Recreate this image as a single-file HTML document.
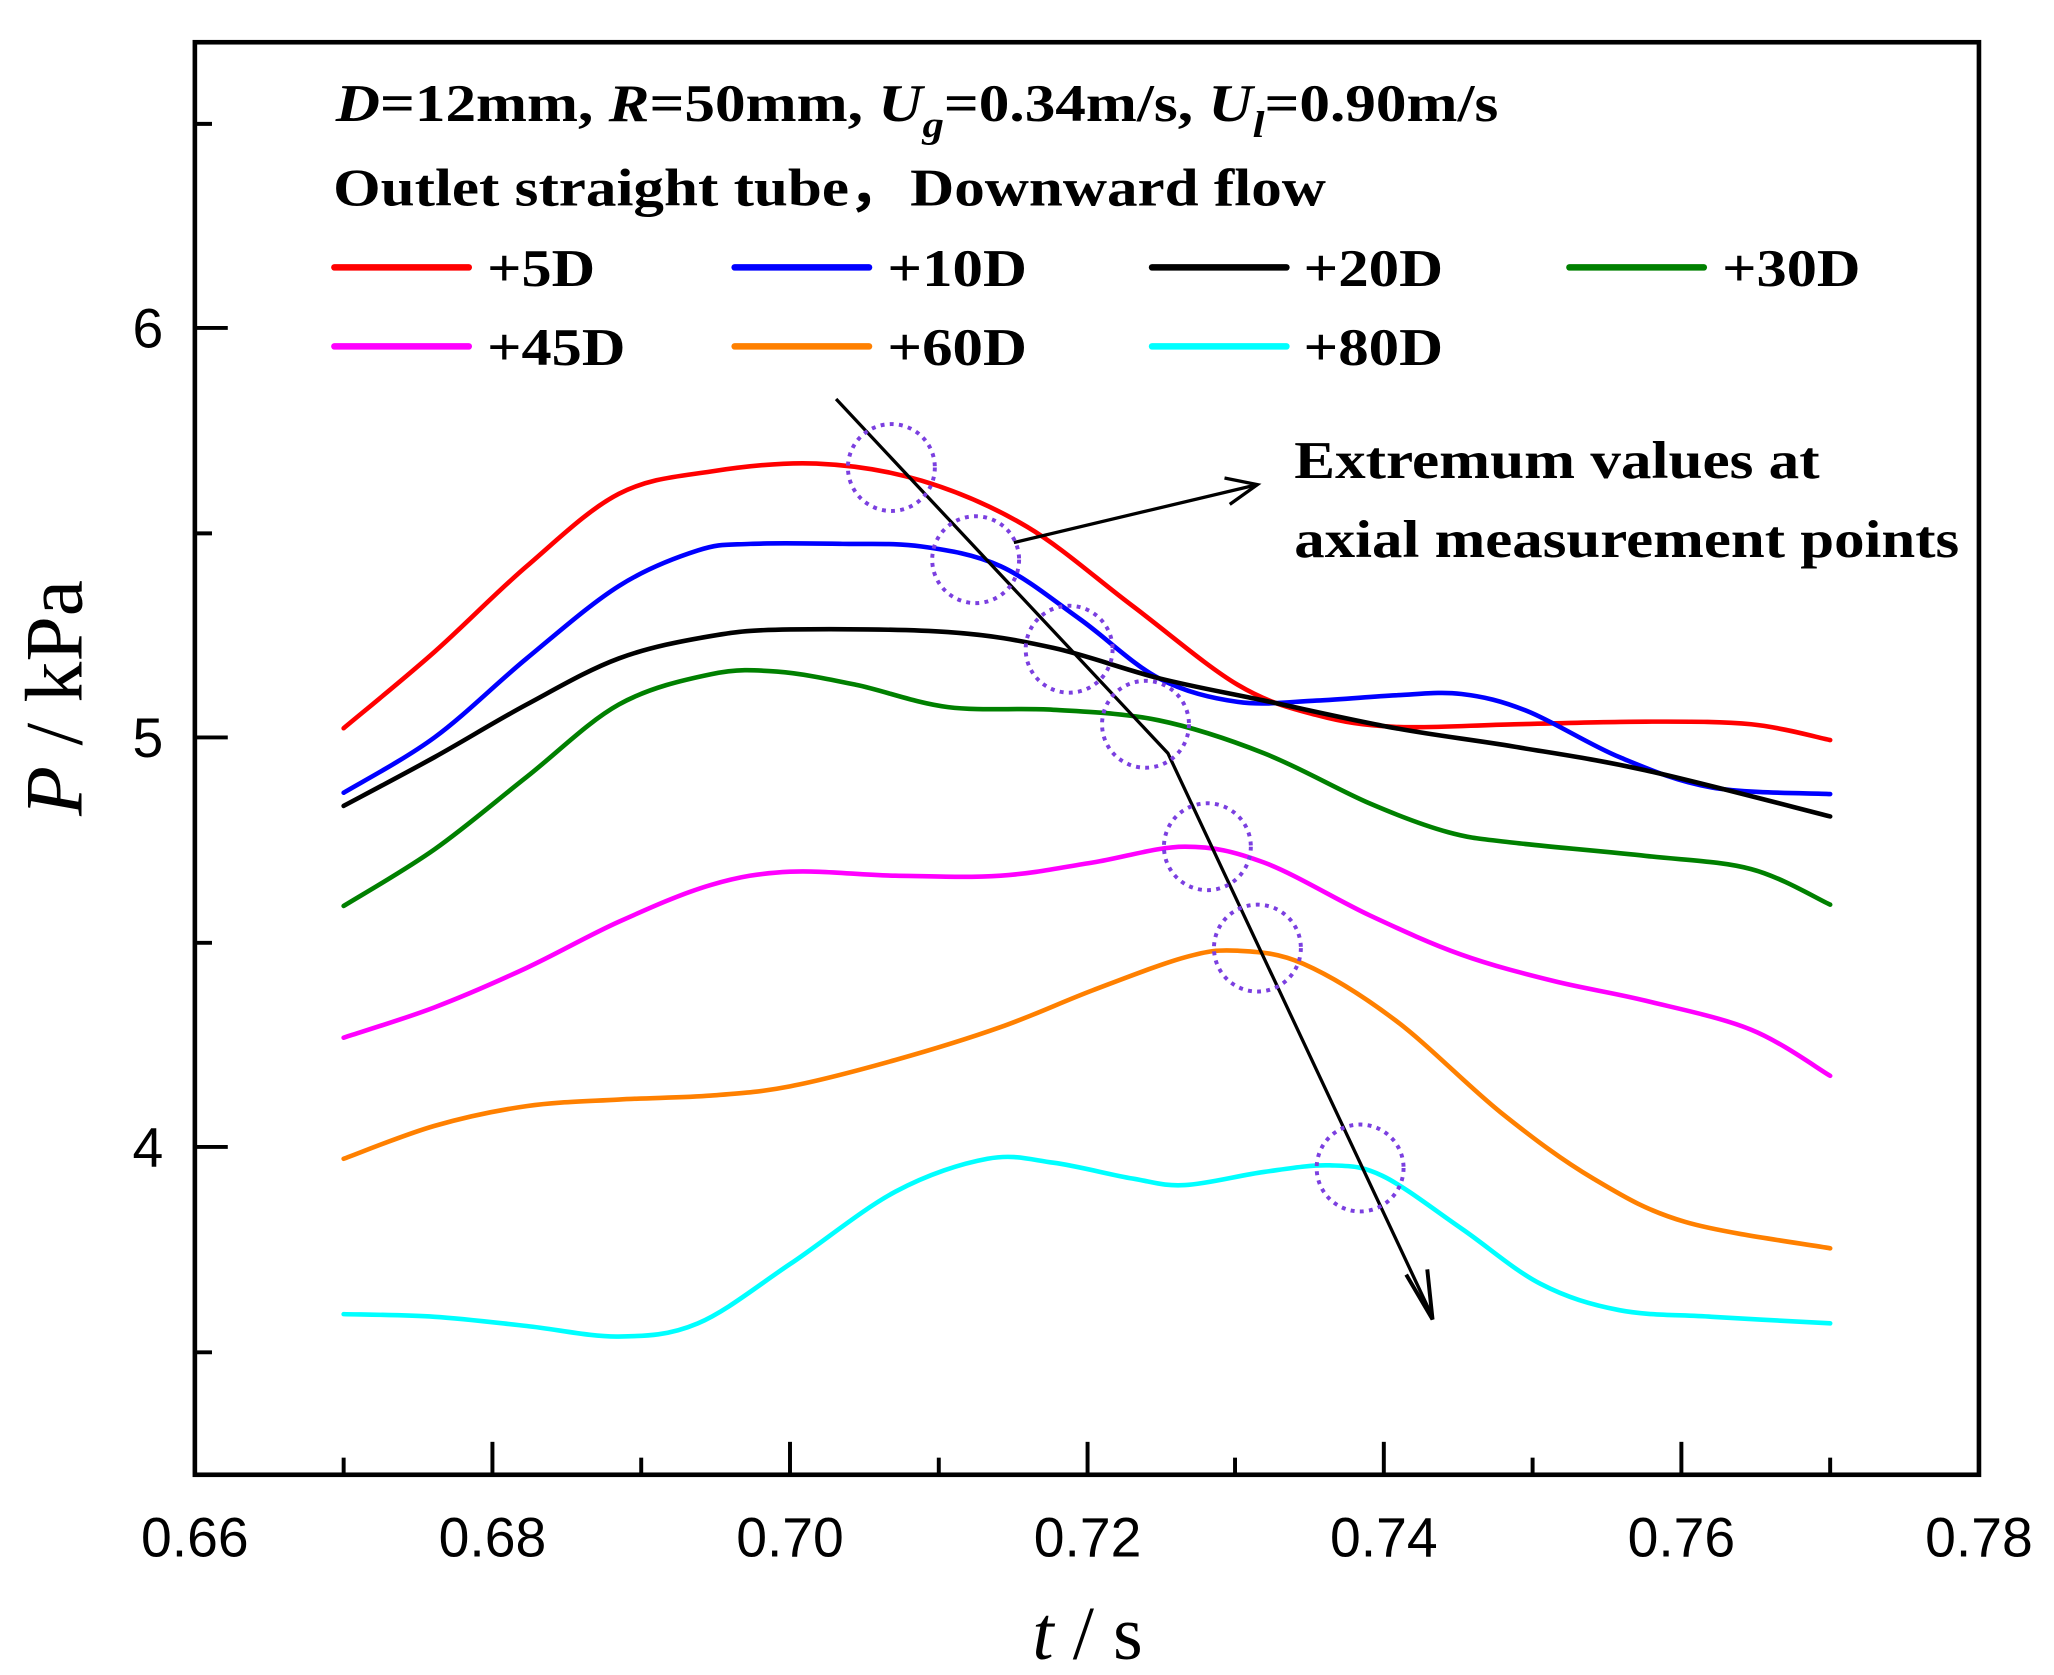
<!DOCTYPE html>
<html><head><meta charset="utf-8"><style>
html,body{margin:0;padding:0;background:#fff;}
svg{display:block;}
.t{font-family:"Liberation Serif",serif;font-weight:bold;}
.a{font-family:"Liberation Sans",sans-serif;}
</style></head><body>
<svg id="s" width="2054" height="1675" viewBox="0 0 1560 1272" xmlns="http://www.w3.org/2000/svg">
<rect x="0" y="0" width="1560" height="1272" fill="#fff"/>
<g id="curves" fill="none" stroke-width="3.5" stroke-linejoin="round" stroke-linecap="round"></g>
<rect x="148" y="32" width="1355" height="1088" fill="none" stroke="#000" stroke-width="3.5"/>
<g stroke="#000" stroke-width="3">
<line x1="261" y1="1120" x2="261" y2="1107"/><line x1="374" y1="1120" x2="374" y2="1095"/>
<line x1="487" y1="1120" x2="487" y2="1107"/><line x1="600" y1="1120" x2="600" y2="1095"/>
<line x1="713" y1="1120" x2="713" y2="1107"/><line x1="826" y1="1120" x2="826" y2="1095"/>
<line x1="938" y1="1120" x2="938" y2="1107"/><line x1="1051" y1="1120" x2="1051" y2="1095"/>
<line x1="1164" y1="1120" x2="1164" y2="1107"/><line x1="1277" y1="1120" x2="1277" y2="1095"/>
<line x1="1390" y1="1120" x2="1390" y2="1107"/>
<line x1="148" y1="94" x2="161" y2="94"/><line x1="148" y1="249" x2="173" y2="249"/>
<line x1="148" y1="405" x2="161" y2="405"/><line x1="148" y1="560" x2="173" y2="560"/>
<line x1="148" y1="716" x2="161" y2="716"/><line x1="148" y1="871" x2="173" y2="871"/>
<line x1="148" y1="1027" x2="161" y2="1027"/>
</g>
<g class="a" font-size="42" text-anchor="middle">
<text x="148" y="1182">0.66</text><text x="374" y="1182">0.68</text><text x="600" y="1182">0.70</text>
<text x="826" y="1182">0.72</text><text x="1051" y="1182">0.74</text><text x="1277" y="1182">0.76</text><text x="1503" y="1182">0.78</text>
</g>
<g class="a" font-size="42" text-anchor="end">
<text x="124" y="264">6</text><text x="124" y="575">5</text><text x="124" y="886">4</text>
</g>
<text x="826" y="1260" text-anchor="middle" font-family="Liberation Serif,serif" font-size="58"><tspan font-style="italic">t</tspan> / s</text>
<text transform="translate(62,530) rotate(-90)" text-anchor="middle" font-family="Liberation Serif,serif" font-size="62"><tspan font-style="italic">P</tspan> / kPa</text>
<text class="t" x="255" y="92" font-size="40" textLength="883" lengthAdjust="spacingAndGlyphs"><tspan font-style="italic">D</tspan>=12mm, <tspan font-style="italic">R</tspan>=50mm, <tspan font-style="italic">U</tspan><tspan font-style="italic" font-size="28" dy="12">g</tspan><tspan dy="-12">=0.34m/s, </tspan><tspan font-style="italic">U</tspan><tspan font-style="italic" font-size="28" dy="12">l</tspan><tspan dy="-12">=0.90m/s</tspan></text>
<text class="t" x="253" y="156" font-size="40" textLength="754" lengthAdjust="spacingAndGlyphs">Outlet straight tube，Downward flow</text>
<g stroke-width="5" stroke-linecap="round">
<line x1="254" y1="203" x2="356" y2="203" stroke="#ff0000"/>
<line x1="558" y1="203" x2="660" y2="203" stroke="#0000ff"/>
<line x1="875" y1="203" x2="977" y2="203" stroke="#000"/>
<line x1="1192" y1="203" x2="1294" y2="203" stroke="#008000"/>
<line x1="254" y1="263" x2="356" y2="263" stroke="#ff00ff"/>
<line x1="558" y1="263" x2="660" y2="263" stroke="#ff8000"/>
<line x1="875" y1="263" x2="977" y2="263" stroke="#00ffff"/>
</g>
<g class="t" font-size="40">
<text x="370" y="217" textLength="82" lengthAdjust="spacingAndGlyphs">+5D</text>
<text x="674" y="217" textLength="106" lengthAdjust="spacingAndGlyphs">+10D</text>
<text x="990" y="217" textLength="106" lengthAdjust="spacingAndGlyphs">+20D</text>
<text x="1308" y="217" textLength="105" lengthAdjust="spacingAndGlyphs">+30D</text>
<text x="370" y="277" textLength="105" lengthAdjust="spacingAndGlyphs">+45D</text>
<text x="674" y="277" textLength="106" lengthAdjust="spacingAndGlyphs">+60D</text>
<text x="990" y="277" textLength="106" lengthAdjust="spacingAndGlyphs">+80D</text>
</g>
<text class="t" x="983" y="363" font-size="40" textLength="399" lengthAdjust="spacingAndGlyphs">Extremum values at</text>
<text class="t" x="983" y="423" font-size="40" textLength="505" lengthAdjust="spacingAndGlyphs">axial measurement points</text>
<g stroke="#000" stroke-width="2.5" fill="none">
<polyline points="635,303 887,572 1086,996"/>
<polyline points="1068,968 1088,1002 1084,964" stroke-width="3"/>
<line x1="770" y1="412" x2="955" y2="368"/>
<polyline points="930,363 955,368 934,383"/>
</g>
<g fill="none" stroke="#7b3fe0" stroke-width="3" stroke-dasharray="3,4">
<circle cx="677" cy="355" r="33"/><circle cx="741" cy="425" r="33"/><circle cx="812" cy="493" r="33"/>
<circle cx="870" cy="550" r="33"/><circle cx="917" cy="643" r="33"/><circle cx="955" cy="720" r="33"/><circle cx="1033" cy="887" r="33"/>
</g>
</svg>
<script>
var data=[
["#ff0000",[[261,553],[330,495],[400,430],[470,375],[540,358],[620,352],[700,365],[780,400],[860,460],[940,520],[1000,543],[1060,552],[1150,550],[1250,548],[1330,550],[1390,562]]],
["#0000ff",[[261,602],[330,560],[400,500],[470,445],[530,418],[570,413],[640,413],[700,415],[760,430],[820,470],[880,515],[940,533],[1000,532],[1060,528],[1110,527],[1160,540],[1230,575],[1300,598],[1390,603]]],
["#000000",[[261,612],[330,575],[400,535],[470,500],[540,483],[600,478],[720,480],[800,492],[880,515],[960,532],[1060,553],[1150,567],[1250,585],[1390,620]]],
["#008000",[[261,688],[330,645],[400,590],[470,535],[540,512],[590,510],[650,520],[720,537],[800,539],[880,547],[960,572],[1040,610],[1100,632],[1150,640],[1250,650],[1330,660],[1390,687]]],
["#ff00ff",[[261,788],[330,765],[400,735],[470,700],[540,672],[600,662],[680,665],[760,665],[830,655],[900,643],[960,655],[1040,695],[1110,725],[1180,745],[1250,760],[1330,782],[1390,817]]],
["#ff8000",[[261,880],[330,855],[400,840],[470,835],[540,832],[600,825],[680,805],[760,780],[830,752],[900,727],[940,722],[990,732],[1060,775],[1140,845],[1210,895],[1280,928],[1390,948]]],
["#00ffff",[[261,998],[330,1000],[400,1007],[470,1015],[530,1005],[600,960],[680,905],[750,880],[800,883],[860,895],[900,900],[960,890],[1010,885],[1050,893],[1110,933],[1170,975],[1230,995],[1300,1000],[1390,1005]]]
];
var g=document.getElementById('curves'),ns="http://www.w3.org/2000/svg";
data.forEach(function(s){var p=s[1],d="M"+p[0][0]+","+p[0][1];
for(var i=0;i<p.length-1;i++){var p0=p[i-1]||p[i],p1=p[i],p2=p[i+1],p3=p[i+2]||p2;
var c1x=p1[0]+(p2[0]-p0[0])/6,c1y=p1[1]+(p2[1]-p0[1])/6,c2x=p2[0]-(p3[0]-p1[0])/6,c2y=p2[1]-(p3[1]-p1[1])/6;
d+=" C"+c1x+","+c1y+" "+c2x+","+c2y+" "+p2[0]+","+p2[1];}
var e=document.createElementNS(ns,"path");e.setAttribute("d",d);e.setAttribute("stroke",s[0]);g.appendChild(e);});
</script>
</body></html>
